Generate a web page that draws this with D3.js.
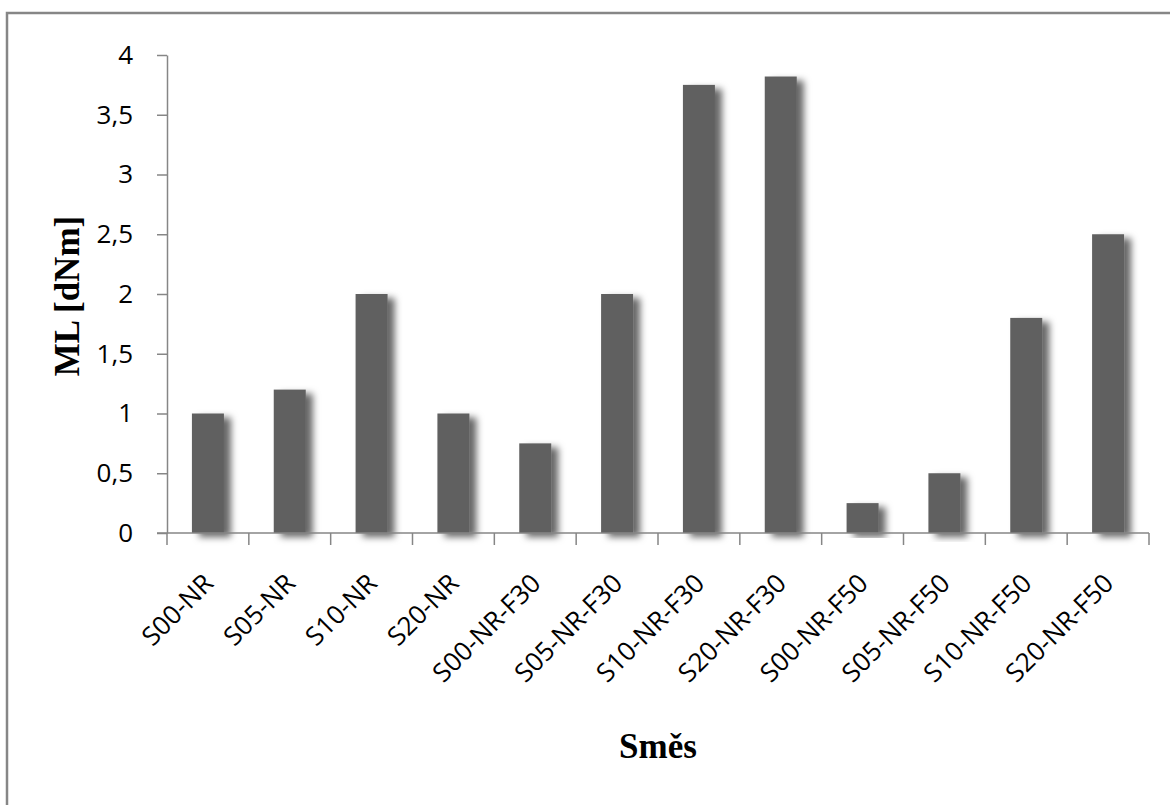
<!DOCTYPE html>
<html>
<head>
<meta charset="utf-8">
<script src="https://cdn.jsdelivr.net/npm/d3@7"></script>
<style>
  html, body { margin: 0; padding: 0; background: #fff; }
  svg { display: block; }
</style>
</head>
<body>
<svg id="chart" width="1170" height="805"></svg>
<script>
// Mixture names and their ML values (dNm)
const categories = ["S00-NR", "S05-NR", "S10-NR", "S20-NR",
  "S00-NR-F30", "S05-NR-F30", "S10-NR-F30", "S20-NR-F30",
  "S00-NR-F50", "S05-NR-F50", "S10-NR-F50", "S20-NR-F50"];
const mlValues = [1, 1.2, 2, 1, 0.75, 2, 3.75, 3.82, 0.25, 0.5, 1.8, 2.5];
const yTicks = [0, 0.5, 1, 1.5, 2, 2.5, 3, 3.5, 4];
const yTitle = "ML [dNm]";
const xTitle = "Směs";

const svg = d3.select("#chart");
const axisColor = "#868686";
const plotLeft = 167, plotRight = 1149, plotTop = 55, plotBottom = 533;

// outer frame (top and left edges)
svg.append("path")
  .attr("d", "M7,805 V13 H1170")
  .attr("fill", "none")
  .attr("stroke", axisColor)
  .attr("stroke-width", 2.5);

// soft drop shadow behind the bars
const defs = svg.append("defs");
const f = defs.append("filter").attr("id", "barShadow")
  .attr("x", "-50%").attr("y", "-10%").attr("width", "220%").attr("height", "125%");
f.append("feDropShadow")
  .attr("dx", 7).attr("dy", 4).attr("stdDeviation", 3.5)
  .attr("flood-color", "#000").attr("flood-opacity", 0.6);

const x = d3.scaleBand()
  .domain(categories)
  .range([plotLeft, plotRight])
  .paddingInner(0.609)
  .paddingOuter(0.3045);

const y = d3.scaleLinear().domain([0, 4]).range([plotBottom, plotTop]);

// bars
svg.append("g").selectAll("rect")
  .data(categories.map((c, i) => ({ c, v: mlValues[i] })))
  .join("rect")
  .attr("x", d => x(d.c))
  .attr("y", d => y(d.v))
  .attr("width", x.bandwidth())
  .attr("height", d => y(0) - y(d.v))
  .attr("fill", "#606060")
  .attr("filter", "url(#barShadow)");

// y axis
const yAxis = svg.append("g")
  .attr("transform", `translate(${plotLeft},0)`)
  .call(d3.axisLeft(y).tickValues(yTicks).tickSize(10).tickSizeOuter(0).tickPadding(24)
    .tickFormat(d => String(d).replace(".", ",")));
yAxis.select(".domain").attr("stroke", axisColor).attr("stroke-width", 1.5);
yAxis.selectAll(".tick line").attr("stroke", axisColor).attr("stroke-width", 1.5);
yAxis.selectAll(".tick text")
  .attr("fill", "#000")
  .style("font-family", "'Open Sans', sans-serif")
  .style("font-size", "26px");

// x axis baseline and category boundary ticks
const edge = d3.scaleLinear().domain([0, categories.length]).range([plotLeft, plotRight]);
const xg = svg.append("g");
xg.append("line")
  .attr("x1", plotLeft - 10).attr("x2", plotRight)
  .attr("y1", plotBottom).attr("y2", plotBottom)
  .attr("stroke", axisColor).attr("stroke-width", 1.5);
xg.selectAll("line.b")
  .data(d3.range(categories.length + 1))
  .join("line").attr("class", "b")
  .attr("x1", d => edge(d)).attr("x2", d => edge(d))
  .attr("y1", plotBottom).attr("y2", plotBottom + 12)
  .attr("stroke", axisColor).attr("stroke-width", 1.5);

// rotated category labels
xg.selectAll("text")
  .data(categories)
  .join("text")
  .attr("transform", d => `translate(${x(d) + x.bandwidth() / 2 + 7},${plotBottom + 52}) rotate(-45)`)
  .attr("text-anchor", "end")
  .attr("fill", "#000")
  .style("font-family", "'Open Sans', sans-serif")
  .style("font-size", "26px")
  .text(d => d);

// axis titles
svg.append("text")
  .attr("transform", `translate(79,${(plotTop + plotBottom) / 2 + 2}) rotate(-90)`)
  .attr("text-anchor", "middle")
  .style("font-family", "'Liberation Serif', 'Times New Roman', serif")
  .style("font-weight", "bold")
  .style("font-size", "35px")
  .text(yTitle);

svg.append("text")
  .attr("x", (plotLeft + plotRight) / 2)
  .attr("y", 758)
  .attr("text-anchor", "middle")
  .style("font-family", "'Liberation Serif', 'Times New Roman', serif")
  .style("font-weight", "bold")
  .style("font-size", "35px")
  .text(xTitle);
</script>
</body>
</html>
